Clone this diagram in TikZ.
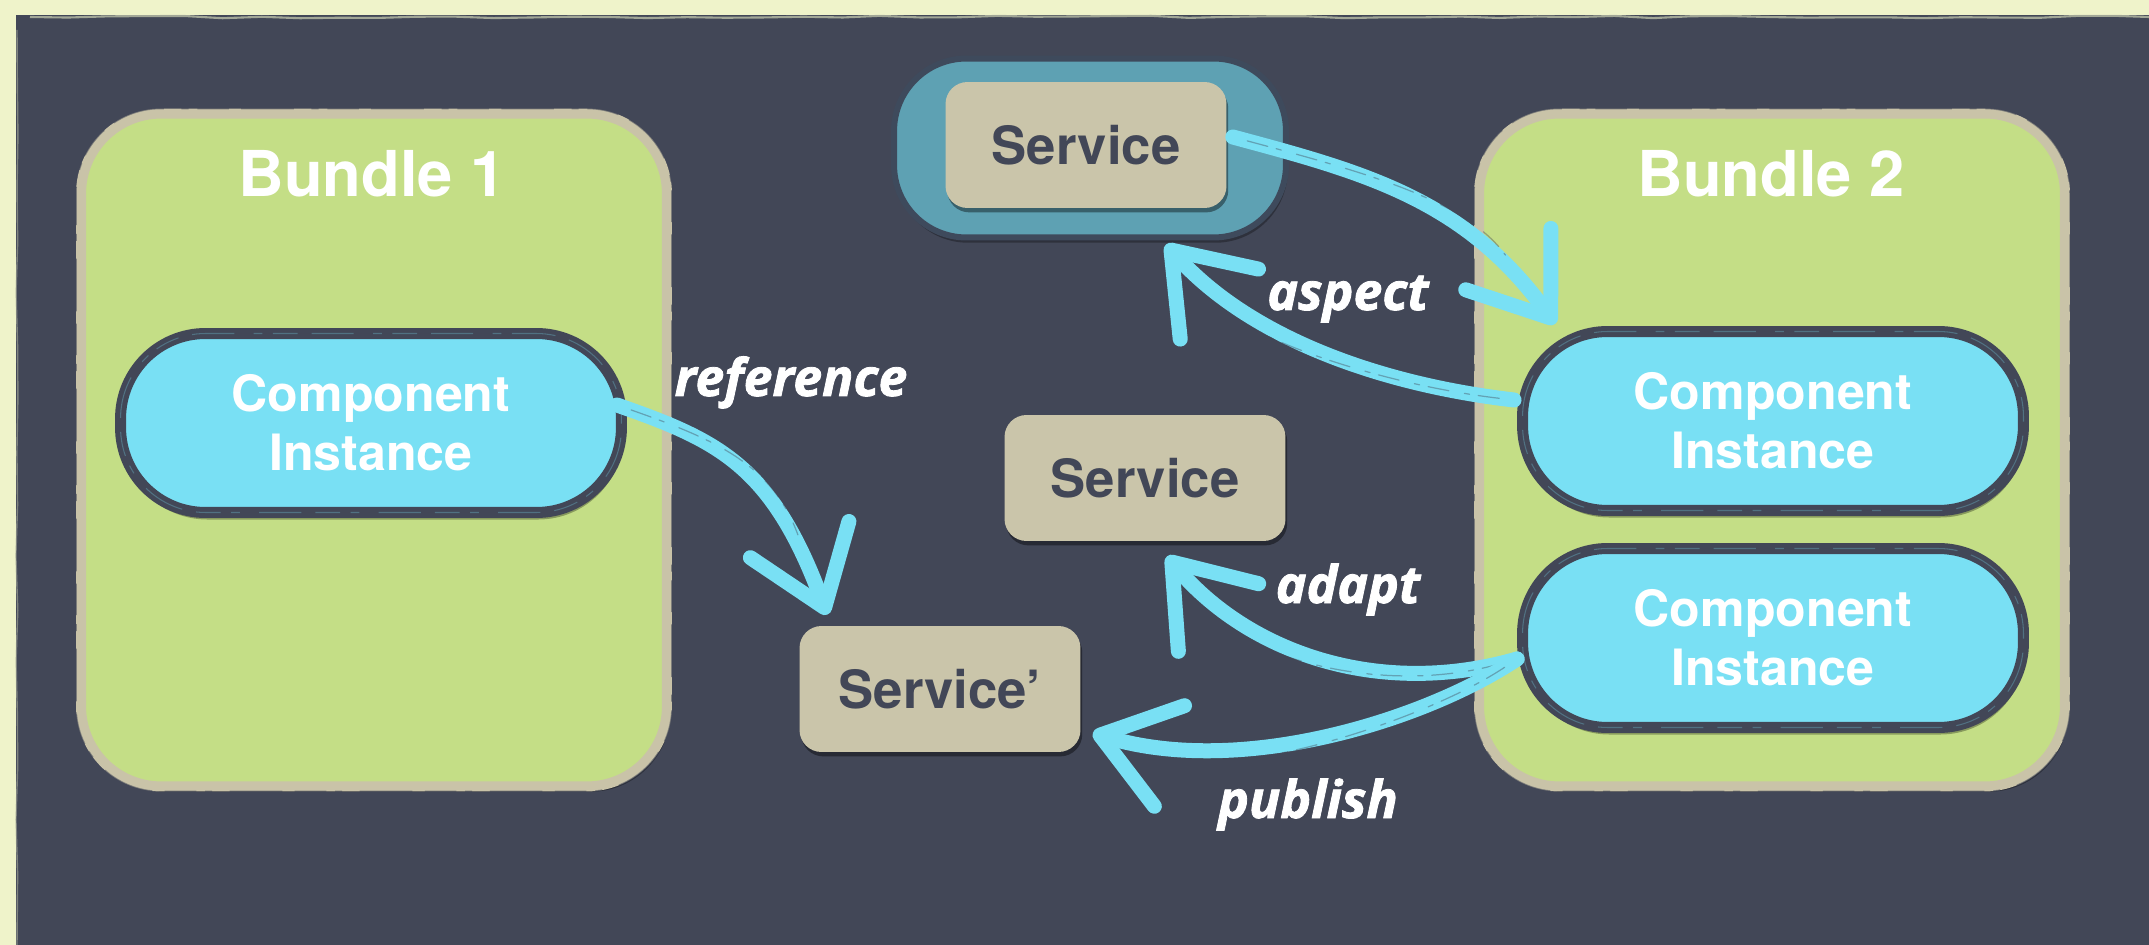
\documentclass[tikz,border=0pt]{standalone}
\usepackage{fontspec}
\setmainfont{TeX Gyre Heros}
\newfontfamily\verbfont{Open Sans}[BoldItalicFeatures={FakeBold=1.6}]
\usetikzlibrary{arrows.meta,shadows,calc,decorations.pathmorphing}

\definecolor{paper}{HTML}{EFF3CA}
\definecolor{slate}{HTML}{424757}
\definecolor{leaf}{HTML}{C4DE86}
\definecolor{sand}{HTML}{C9C3A8}
\definecolor{sky}{HTML}{79E0F4}
\definecolor{lagoon}{HTML}{5EA1B3}
\definecolor{card}{HTML}{CAC5AA}
\definecolor{haloedge}{HTML}{3E4A5C}

\begin{document}
\begin{tikzpicture}[x=0.02cm, y=-0.02cm,
  bundle/.style={draw=sand, fill=leaf, line width=0.2cm, rounded corners=1.6cm,
    minimum width=11.72cm, minimum height=13.46cm,
    drop shadow={shadow xshift=2pt, shadow yshift=-3pt, opacity=0.35, fill=black}},
  bundleedge/.style={draw=slate, line width=0.8pt, opacity=0.55, rounded corners=1.7cm,
    dash pattern=on 18pt off 5pt on 4pt off 10pt on 30pt off 7pt},
  bundletitle/.style={text=white, inner sep=0pt, font=\bfseries\fontsize{36}{43}\selectfont},
  instance/.style={draw=slate, fill=sky, line width=0.22cm, rounded corners=1.7cm,
    minimum width=10.02cm, minimum height=3.58cm, align=center, text=white,
    font=\bfseries\fontsize{28.5}{33.5}\selectfont,
    drop shadow={shadow xshift=1pt, shadow yshift=-4pt, opacity=0.3, fill=black},
    postaction={draw=sky!55!slate, line width=0.6pt, opacity=0.5,
      dash pattern=on 14pt off 6pt on 5pt off 11pt on 24pt off 8pt}},
  halo/.style={draw=haloedge, fill=lagoon, line width=0.12cm, rounded corners=1.45cm,
    minimum width=7.84cm, minimum height=3.58cm,
    drop shadow={shadow xshift=1pt, shadow yshift=-3pt, opacity=0.3, fill=black}},
  service/.style={fill=card, rounded corners=0.44cm, minimum width=5.62cm,
    minimum height=2.52cm, text=slate, font=\bfseries\fontsize{30}{36}\selectfont,
    drop shadow={shadow xshift=1pt, shadow yshift=-2.5pt, opacity=0.4, fill=black}},
  verb/.style={text=white, anchor=base, inner sep=0pt,
    font=\verbfont\bfseries\itshape\fontsize{29.5}{35}\selectfont},
  brush/.style={draw=sky, line width=0.3cm, line cap=round,
    -{Straight Barb[length=1.45cm, width=2.1cm, round]},
    postaction={draw=slate, opacity=0.4, line width=0.7pt, arrows=-,
      dash pattern=on 12pt off 5pt on 3pt off 9pt, shorten >=1.7cm, shorten <=0.3cm}}
]
% paper and dark board
\useasboundingbox (0,0) rectangle (2149,945);
\fill[paper] (0,0) rectangle (2149,945);
\fill[slate] (16,15) rectangle (2149,945);
\draw[paper!70!slate, line width=1.2pt, opacity=0.8, decorate,
  decoration={random steps, segment length=22pt, amplitude=0.7pt}] (30,17) -- (2149,17);
\draw[paper!60!slate, line width=0.8pt, opacity=0.6, decorate,
  decoration={random steps, segment length=30pt, amplitude=0.8pt}] (17,30) -- (17,945);

% bundles
\node[bundle] (b1) at (374,450) {};
\node[bundle] (b2) at (1772,450) {};
\draw[bundleedge] (b1.north west) rectangle (b1.south east);
\draw[bundleedge] (b2.north west) rectangle (b2.south east);
\node[bundletitle] (b1t) at (372,174) {Bundle 1};
\node[bundletitle] (b2t) at (1771,174) {Bundle 2};

% component instances
\node[instance] (ci1) at (371,423) {Component\\Instance};
\node[instance] (ci2a) at (1773,421) {Component\\Instance};
\node[instance] (ci2b) at (1773,638) {Component\\Instance};

% services
\node[halo] (halo) at (1090,148) {};
\node[service] (svcT) at (1086,145) {Service};
\node[service] (svcM) at (1145,478) {Service};
\node[service] (svcP) at (940,689) {Service’};

% connector end points
\coordinate (refS) at ($(ci1.east)+(-10,-18)$);
\coordinate (refT) at ($(svcP.north west)+(28,-11)$);
\coordinate (asTS) at ($(svcT.east)+(6,-8)$);
\coordinate (asTT) at ($(ci2a.north west)+(38,-2)$);
\coordinate (asBS) at ($(ci2a.west)+(-3,-21)$);
\coordinate (asBT) at ($(halo.south)+(76,4)$);
\coordinate (pubS) at ($(ci2b.west)+(0,21)$);
\coordinate (adT)  at ($(svcM.south)+(22,15)$);
\coordinate (puT)  at ($(svcP.east)+(12,44)$);

% connectors
\draw[brush] (refS) .. controls +(100,35) and +(-55,-150) .. (refT);
\draw[brush] (asTS) .. controls +(130,35) and +(-90,-125) .. (asTT);
\draw[brush] (asBS) .. controls +(-130,-15) and +(85,95) .. (asBT);
\draw[brush] (pubS) .. controls +(-140,40) and +(80,95) .. (adT);
\draw[brush] (pubS) .. controls +(-90,60) and +(150,45) .. (puT);

% connector labels
\node[verb] (lref) at (791,396) {reference};
\node[verb] (lasp) at (1348,310) {aspect};
\node[verb] (lada) at (1348,603) {adapt};
\node[verb] (lpub) at (1308,818) {publish};
\end{tikzpicture}
\end{document}
